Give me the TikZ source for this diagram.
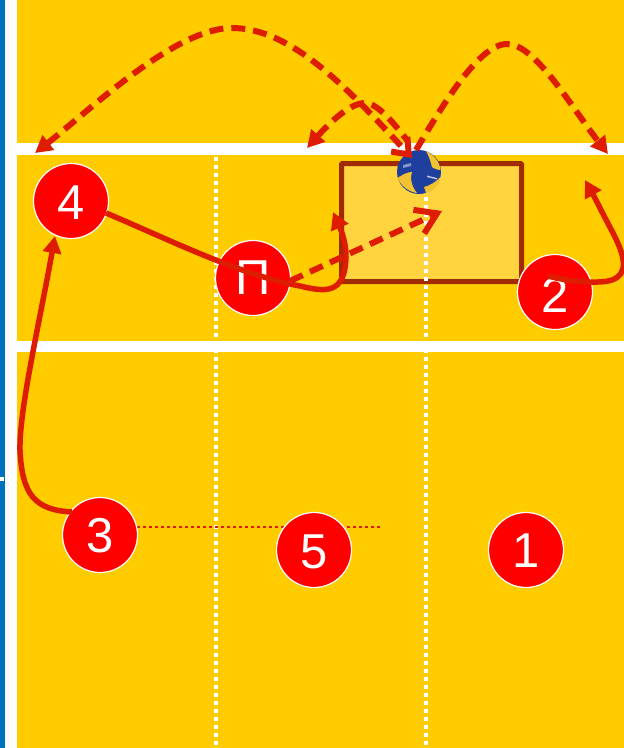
\documentclass[tikz,border=0pt]{standalone}
\usepackage{fontspec}
\setmainfont{Liberation Sans}
\usetikzlibrary{arrows.meta}
\definecolor{court}{HTML}{FFCC00}
\definecolor{zonefill}{HTML}{FFD43F}
\definecolor{zoneline}{HTML}{A02B00}
\definecolor{move}{HTML}{DD1C00}
\definecolor{sidebar}{HTML}{0070C0}
\definecolor{ballblue}{HTML}{1E3F9E}
\definecolor{ballyellow}{HTML}{F2C230}
\tikzset{
  player/.style={circle,draw=white,fill=red,line width=1.2pt,minimum size=75pt,inner sep=0pt,text=white,font=\fontsize{49}{49}\selectfont},
  headtri/.tip={Triangle[length=17pt,width=18pt,fill=move]},
  run/.style={draw=move,line width=5.5pt,-headtri},
  pass/.style={draw=move,line width=6pt,dash pattern=on 14pt off 8pt},
  netline/.style={fill=white},
  dotline/.style={draw=white,line width=4.5pt,dash pattern=on 4pt off 4pt},
}
\newcommand{\lowered}[2]{\raisebox{-#1pt}[\height][0pt]{#2}}
\begin{document}
\begin{tikzpicture}[x=1pt,y=-1pt]
\useasboundingbox (0,0) rectangle (624,748);
\fill[court] (0,0) rectangle (624,748);
\fill[netline] (5,0) rectangle (17,748);
\fill[sidebar] (0,0) rectangle (5,748);
\fill[netline] (0,477) rectangle (4,481);
\fill[netline] (17,143) rectangle (624,155);
\fill[netline] (17,341) rectangle (624,352);
\node[draw=zoneline,fill=zonefill,line width=5pt,outer sep=0pt,rounded corners=1pt,minimum width=180pt,minimum height=118pt,inner sep=0pt,anchor=north west] (zone) at (341.5,163.5) {};
\coordinate (d1a) at (216,157); \coordinate (d1b) at (216,748);
\coordinate (d2a) at (426,157); \coordinate (d2b) at (426,748);
\draw[dotline] (d1a) -- (d1b);
\draw[dotline] (d2a) -- (d2b);
\coordinate (da) at (125,527); \coordinate (db) at (382,527);
\draw[draw=move,line width=2.5pt,dash pattern=on 3pt off 3pt] (da) -- (db);
\node[player] (p4) at (71,201) {\lowered{1.5}{4}};
\node[player] (pc) at (253,278) {П};
\node[player] (p2) at (555,292) {\lowered{3.5}{2}};
\node[player] (p3) at (100,535) {\lowered{0.5}{3}};
\node[player] (p5) at (314,550) {\lowered{1.5}{5}};
\node[player] (p1) at (526,550) {\lowered{0.5}{1}};
\node[circle,fill=ballblue,minimum size=44pt,inner sep=0pt] (ball) at (419,172) {};
\begin{scope}[shift={(419,172)}]
\fill[ballyellow] (7,-21) .. controls (14,-18) and (21,-10) .. (21.5,-2) .. controls (18,-2) and (14,-4) .. (13,-5) .. controls (12,-9) and (10,-16) .. (7,-21) -- cycle;
\fill[ballyellow] (-21.5,6) .. controls (-17,3) and (-12,0) .. (-7,0) .. controls (-9,5) and (-8,14) .. (-2,21) .. controls (-10,20) and (-18,14) .. (-21.5,6) -- cycle;
\fill[ballyellow] (5,15) .. controls (10,14) and (17,10) .. (21.5,5) .. controls (20,13) and (14,20) .. (7,21) .. controls (6.5,19) and (6,17) .. (5,15) -- cycle;
\fill[white!45!ballblue] (-16,-7) -- (-8,-9) -- (-8,-6) -- (-16,-4) -- cycle;
\fill[white!70!ballblue] (8,3.5) -- (18,6) -- (18,7.5) -- (8,5) -- cycle;
\end{scope}
\coordinate (s3) at (72,512); \coordinate (t4) at (55,236);
\coordinate (s4) at (106,213); \coordinate (tc) at (333,212);
\coordinate (s2) at (548,276); \coordinate (t2) at (585,180);
\coordinate (ps) at (290,281); \coordinate (pt) at (442,211);
\coordinate (tl) at (35,153); \coordinate (tb) at (412,158);
\coordinate (tm) at (307,148); \coordinate (em) at (407,140);
\coordinate (sr) at (416,150); \coordinate (tr) at (608,154);
\draw[run] (s3) .. controls (35,510) and (22,495) .. (20,450) .. controls (19,410) and (40,320) .. (t4);
\draw[run] (s4) .. controls (170,240) and (240,275) .. (300,286) .. controls (325,292) and (345,295) .. (346,257) .. controls (346,240) and (340,228) .. (tc);
\draw[run] (s2) .. controls (570,282) and (600,284) .. (612,280) .. controls (628,274) and (626,258) .. (613,233) .. controls (605,218) and (595,198) .. (t2);
\draw[pass,-{Straight Barb[length=20pt,width=26pt]}] (ps) -- (pt);
\draw[pass,headtri-{Straight Barb[length=14pt,width=22pt]}] (tl) .. controls (90,110) and (175,28) .. (232,28) .. controls (290,28) and (345,85) .. (tb);
\draw[pass,headtri-] (tm) .. controls (325,128) and (348,103) .. (365,103) .. controls (378,103) and (395,125) .. (em);
\draw[pass,-headtri] (sr) .. controls (440,110) and (478,44) .. (507,44) .. controls (535,44) and (570,105) .. (tr);
\end{tikzpicture}
\end{document}
